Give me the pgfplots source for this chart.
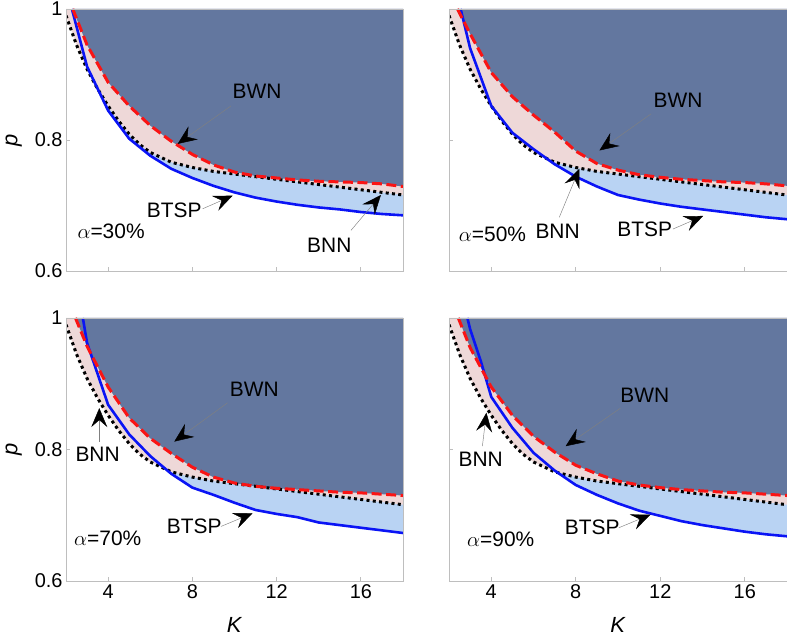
\documentclass[border=0pt]{standalone}
\usepackage{pgfplots}
\pgfplotsset{compat=1.18}
\usepackage{fontspec}
\setmainfont{Liberation Sans}
\usetikzlibrary{arrows.meta}
\definecolor{darkfill}{RGB}{99,119,159}
\definecolor{pinkfill}{RGB}{238,216,216}
\definecolor{bluefill}{RGB}{185,211,243}
\definecolor{axgray}{RGB}{190,190,190}
\definecolor{bluel}{RGB}{10,20,245}
\definecolor{redl}{RGB}{250,20,20}
\newcommand{\tkf}{\fontsize{20}{20}\selectfont}
\newcommand{\lbf}{\fontsize{22}{22}\selectfont}

\tikzset{
  bfill/.style={fill=bluefill, draw=none},
  pfill/.style={fill=pinkfill, draw=none},
  dfill/.style={fill=darkfill, draw=none},
  bline/.style={bluel, line width=2.6bp},
  rline/.style={redl, line width=3bp, dash pattern=on 10bp off 4.5bp},
  kline/.style={black, line width=3bp, line cap=butt, dash pattern=on 3bp off 3.3bp},
  ann/.style={font=\fontsize{21}{21}\selectfont},
  arr/.style={gray, line width=0.45bp, -{Stealth[black, length=19bp, width=16bp, inset=7bp]}},
}
\pgfplotsset{
  panel/.style={
    scale only axis, width=337bp, height=262bp,
    xmin=2, xmax=18, ymin=0.6, ymax=1,
    xtick={4,8,12,16}, ytick={0.6,0.8,1},
    tick align=inside, major tick length=4bp,
    axis line style={axgray, line width=0.8bp},
    every tick/.style={axgray, line width=0.8bp},
    xtick pos=bottom, ytick pos=left,
    axis on top,
  },
}

\begin{document}
\begin{tikzpicture}[x=1bp,y=1bp]
\path[use as bounding box] (0,0) rectangle (787,638);

% ---------- alpha = 30% ----------
\begin{axis}[panel, at={(66bp,367bp)}, anchor=south west,
  xticklabels={}, yticklabels={{\tkf 0.6},{\tkf 0.8},{\tkf 1}},
  ylabel={\lbf\textit{p}},
  ylabel style={at={(axis description cs:-0.155,0.5)}, anchor=center}]
\addplot[bfill] coordinates {(2.28,1)(3,0.912)(4,0.845)(5,0.802)(6,0.776)(7,0.756)(8,0.742)(9,0.730)(10,0.720)(11,0.712)(12,0.706)(13,0.701)(14,0.697)(15,0.694)(16,0.690)(17,0.687)(18,0.685)(18,1)};
\addplot[pfill] coordinates {(2,0.99)(2.5,0.945)(3,0.908)(3.5,0.878)(4,0.852)(4.5,0.829)(5,0.809)(5.5,0.793)(6,0.781)(7,0.766)(8,0.758)(9,0.752)(10,0.748)(11,0.744)(12,0.740)(13,0.736)(14,0.732)(15,0.728)(16,0.724)(17,0.720)(18,0.716)(18,1)(2,1)};
\addplot[dfill] coordinates {(2.32,1)(3,0.945)(4,0.888)(5,0.852)(6,0.822)(7,0.798)(8,0.778)(9,0.762)(10,0.751)(11,0.745)(12,0.742)(13,0.739)(14,0.737)(15,0.736)(16,0.735)(17,0.733)(18,0.729)(18,1)};
\addplot[kline] coordinates {(2,0.99)(2.5,0.945)(3,0.908)(3.5,0.878)(4,0.852)(4.5,0.829)(5,0.809)(5.5,0.793)(6,0.781)(7,0.766)(8,0.758)(9,0.752)(10,0.748)(11,0.744)(12,0.740)(13,0.736)(14,0.732)(15,0.728)(16,0.724)(17,0.720)(18,0.716)};
\addplot[bline] coordinates {(2.28,1)(3,0.912)(4,0.845)(5,0.802)(6,0.776)(7,0.756)(8,0.742)(9,0.730)(10,0.720)(11,0.712)(12,0.706)(13,0.701)(14,0.697)(15,0.694)(16,0.690)(17,0.687)(18,0.685)};
\addplot[rline] coordinates {(2.32,1)(3,0.945)(4,0.888)(5,0.852)(6,0.822)(7,0.798)(8,0.778)(9,0.762)(10,0.751)(11,0.745)(12,0.742)(13,0.739)(14,0.737)(15,0.736)(16,0.735)(17,0.733)(18,0.729)};
\node[ann] at (axis cs:11.07,0.875) {BWN};
\draw[arr] (axis cs:9.83,0.852) -- (axis cs:7.3,0.794);
\node[ann] at (axis cs:7.14,0.692) {BTSP};
\draw[arr] (axis cs:8.49,0.695) -- (axis cs:9.91,0.715);
\node[ann] at (axis cs:14.5,0.639) {BNN};
\draw[arr] (axis cs:15.53,0.662) -- (axis cs:16.95,0.716);
\node[ann] at (axis cs:4.14,0.661) {$\alpha$=30\%};
\end{axis}

% ---------- alpha = 50% ----------
\begin{axis}[panel, width=338bp, at={(449bp,367bp)}, anchor=south west,
  xticklabels={}, yticklabels={}]
\addplot[bfill] coordinates {(2.55,1)(3,0.94)(4,0.852)(5,0.811)(6,0.786)(7,0.763)(8,0.744)(9,0.729)(10,0.716)(11,0.709)(12,0.703)(13,0.698)(14,0.694)(15,0.690)(16,0.686)(17,0.682)(18,0.679)(18,1)};
\addplot[pfill] coordinates {(2,0.99)(2.5,0.945)(3,0.908)(3.5,0.878)(4,0.852)(4.5,0.829)(5,0.809)(5.5,0.793)(6,0.781)(7,0.766)(8,0.758)(9,0.752)(10,0.748)(11,0.744)(12,0.740)(13,0.736)(14,0.732)(15,0.728)(16,0.724)(17,0.720)(18,0.716)(18,1)(2,1)};
\addplot[dfill] coordinates {(2.4,1)(3,0.962)(4,0.903)(5,0.866)(6,0.838)(7,0.812)(8,0.783)(9,0.764)(10,0.754)(11,0.747)(12,0.743)(13,0.740)(14,0.738)(15,0.736)(16,0.735)(17,0.733)(18,0.730)(18,1)};
\addplot[kline] coordinates {(2,0.99)(2.5,0.945)(3,0.908)(3.5,0.878)(4,0.852)(4.5,0.829)(5,0.809)(5.5,0.793)(6,0.781)(7,0.766)(8,0.758)(9,0.752)(10,0.748)(11,0.744)(12,0.740)(13,0.736)(14,0.732)(15,0.728)(16,0.724)(17,0.720)(18,0.716)};
\addplot[bline] coordinates {(2.55,1)(3,0.94)(4,0.852)(5,0.811)(6,0.786)(7,0.763)(8,0.744)(9,0.729)(10,0.716)(11,0.709)(12,0.703)(13,0.698)(14,0.694)(15,0.690)(16,0.686)(17,0.682)(18,0.679)};
\addplot[rline] coordinates {(2.4,1)(3,0.962)(4,0.903)(5,0.866)(6,0.838)(7,0.812)(8,0.783)(9,0.764)(10,0.754)(11,0.747)(12,0.743)(13,0.740)(14,0.738)(15,0.736)(16,0.735)(17,0.733)(18,0.730)};
\node[ann] at (axis cs:12.84,0.860) {BWN};
\draw[arr] (axis cs:11.57,0.840) -- (axis cs:9.12,0.784);
\node[ann] at (axis cs:7.14,0.661) {BNN};
\draw[arr] (axis cs:7.22,0.682) -- (axis cs:8.17,0.756);
\node[ann] at (axis cs:11.26,0.664) {BTSP};
\draw[arr] (axis cs:12.6,0.664) -- (axis cs:14.03,0.684);
\node[ann] at (axis cs:4.06,0.656) {$\alpha$=50\%};
\end{axis}

% ---------- alpha = 70% ----------
\begin{axis}[panel, height=263bp, at={(66bp,57bp)}, anchor=south west,
  xticklabels={{\tkf 4},{\tkf 8},{\tkf 12},{\tkf 16}},
  yticklabels={{\tkf 0.6},{\tkf 0.8},{\tkf 1}},
  ylabel={\lbf\textit{p}}, xlabel={\lbf\textit{K}},
  ylabel style={at={(axis description cs:-0.155,0.5)}, anchor=center},
  xlabel style={at={(axis description cs:0.5,-0.167)}, anchor=center}]
\addplot[bfill] coordinates {(2.8,1)(3,0.962)(4,0.868)(5,0.823)(6,0.790)(7,0.763)(8,0.742)(9,0.731)(10,0.719)(11,0.708)(12,0.702)(13,0.697)(14,0.689)(15,0.685)(16,0.681)(17,0.677)(18,0.673)(18,1)};
\addplot[pfill] coordinates {(2,0.99)(2.5,0.945)(3,0.908)(3.5,0.878)(4,0.852)(4.5,0.829)(5,0.809)(5.5,0.793)(6,0.781)(7,0.766)(8,0.758)(9,0.752)(10,0.748)(11,0.744)(12,0.740)(13,0.736)(14,0.732)(15,0.728)(16,0.724)(17,0.720)(18,0.716)(18,1)(2,1)};
\addplot[dfill] coordinates {(2.45,1)(3,0.957)(4,0.895)(5,0.848)(6,0.817)(7,0.794)(8,0.773)(9,0.758)(10,0.749)(11,0.744)(12,0.741)(13,0.739)(14,0.737)(15,0.735)(16,0.734)(17,0.732)(18,0.730)(18,1)};
\addplot[kline] coordinates {(2,0.99)(2.5,0.945)(3,0.908)(3.5,0.878)(4,0.852)(4.5,0.829)(5,0.809)(5.5,0.793)(6,0.781)(7,0.766)(8,0.758)(9,0.752)(10,0.748)(11,0.744)(12,0.740)(13,0.736)(14,0.732)(15,0.728)(16,0.724)(17,0.720)(18,0.716)};
\addplot[bline] coordinates {(2.8,1)(3,0.962)(4,0.868)(5,0.823)(6,0.790)(7,0.763)(8,0.742)(9,0.731)(10,0.719)(11,0.708)(12,0.702)(13,0.697)(14,0.689)(15,0.685)(16,0.681)(17,0.677)(18,0.673)};
\addplot[rline] coordinates {(2.45,1)(3,0.957)(4,0.895)(5,0.848)(6,0.817)(7,0.794)(8,0.773)(9,0.758)(10,0.749)(11,0.744)(12,0.741)(13,0.739)(14,0.737)(15,0.735)(16,0.734)(17,0.732)(18,0.730)};
\node[ann] at (axis cs:10.94,0.891) {BWN};
\draw[arr] (axis cs:9.67,0.871) -- (axis cs:7.14,0.812);
\node[ann] at (axis cs:3.5,0.792) {BNN};
\draw[arr] (axis cs:3.58,0.812) -- (axis cs:3.58,0.863);
\node[ann] at (axis cs:8.09,0.683) {BTSP};
\draw[arr] (axis cs:9.36,0.683) -- (axis cs:10.86,0.703);
\node[ann] at (axis cs:3.98,0.665) {$\alpha$=70\%};
\end{axis}

% ---------- alpha = 90% ----------
\begin{axis}[panel, width=338bp, height=263bp, at={(449bp,57bp)}, anchor=south west,
  xticklabels={{\tkf 4},{\tkf 8},{\tkf 12},{\tkf 16}},
  yticklabels={}, xlabel={\lbf\textit{K}},
  xlabel style={at={(axis description cs:0.5,-0.167)}, anchor=center}]
\addplot[bfill] coordinates {(2.87,1)(3,0.983)(3.5,0.935)(4,0.880)(5,0.833)(6,0.795)(7,0.768)(8,0.746)(9,0.731)(10,0.718)(11,0.707)(12,0.699)(13,0.691)(14,0.685)(15,0.680)(16,0.675)(17,0.671)(18,0.668)(18,1)};
\addplot[pfill] coordinates {(2,0.99)(2.5,0.945)(3,0.908)(3.5,0.878)(4,0.852)(4.5,0.829)(5,0.809)(5.5,0.793)(6,0.781)(7,0.766)(8,0.758)(9,0.752)(10,0.748)(11,0.744)(12,0.740)(13,0.736)(14,0.732)(15,0.728)(16,0.724)(17,0.720)(18,0.716)(18,1)(2,1)};
\addplot[dfill] coordinates {(2.44,1)(3,0.955)(4,0.895)(5,0.852)(6,0.820)(7,0.796)(8,0.776)(9,0.763)(10,0.752)(11,0.746)(12,0.742)(13,0.739)(14,0.737)(15,0.735)(16,0.734)(17,0.732)(18,0.730)(18,1)};
\addplot[kline] coordinates {(2,0.99)(2.5,0.945)(3,0.908)(3.5,0.878)(4,0.852)(4.5,0.829)(5,0.809)(5.5,0.793)(6,0.781)(7,0.766)(8,0.758)(9,0.752)(10,0.748)(11,0.744)(12,0.740)(13,0.736)(14,0.732)(15,0.728)(16,0.724)(17,0.720)(18,0.716)};
\addplot[bline] coordinates {(2.87,1)(3,0.983)(3.5,0.935)(4,0.880)(5,0.833)(6,0.795)(7,0.768)(8,0.746)(9,0.731)(10,0.718)(11,0.707)(12,0.699)(13,0.691)(14,0.685)(15,0.680)(16,0.675)(17,0.671)(18,0.668)};
\addplot[rline] coordinates {(2.44,1)(3,0.955)(4,0.895)(5,0.852)(6,0.820)(7,0.796)(8,0.776)(9,0.763)(10,0.752)(11,0.746)(12,0.742)(13,0.739)(14,0.737)(15,0.735)(16,0.734)(17,0.732)(18,0.730)};
\node[ann] at (axis cs:11.27,0.883) {BWN};
\draw[arr] (axis cs:10.12,0.863) -- (axis cs:7.52,0.805);
\node[ann] at (axis cs:3.5,0.785) {BNN};
\draw[arr] (axis cs:3.58,0.805) -- (axis cs:3.77,0.856);
\node[ann] at (axis cs:8.78,0.681) {BTSP};
\draw[arr] (axis cs:10.04,0.681) -- (axis cs:11.54,0.701);
\node[ann] at (axis cs:4.45,0.663) {$\alpha$=90\%};
\end{axis}
\end{tikzpicture}
\end{document}
